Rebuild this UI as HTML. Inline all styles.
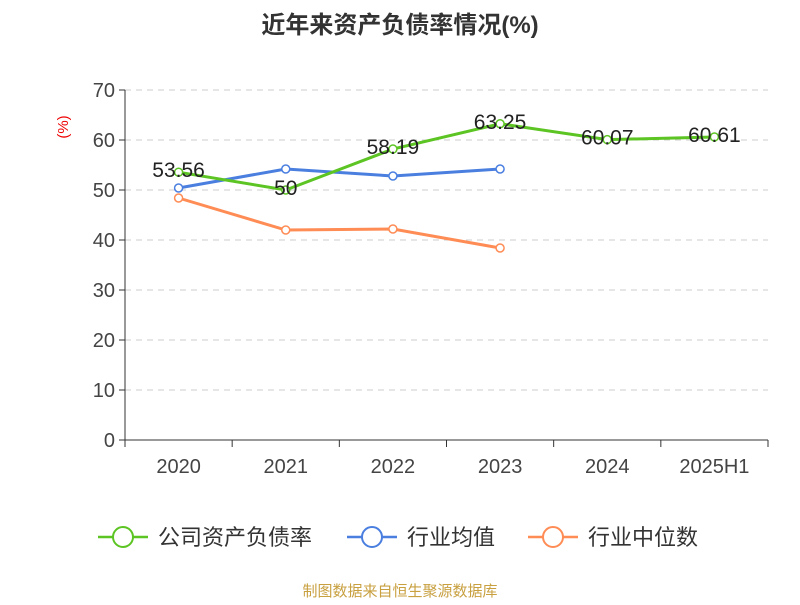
<!DOCTYPE html>
<html><head><meta charset="utf-8"><style>
body{margin:0;background:#fff;font-family:"Liberation Sans","Noto Sans CJK SC",sans-serif}
</style></head><body>
<svg id="c" width="800" height="600" xmlns="http://www.w3.org/2000/svg">
<text x="400" y="33" text-anchor="middle" font-size="24" font-weight="bold" fill="#333" font-family="Liberation Sans,Noto Sans CJK SC,sans-serif">近年来资产负债率情况(%)</text>
<text x="0" y="0" transform="translate(68,127) rotate(-90)" text-anchor="middle" font-size="15" fill="#e00">(%)</text>
<g id="grid"></g><g id="axes"></g><g id="series"></g>
<text x="400" y="596" text-anchor="middle" font-size="15" fill="#c8a040" font-family="Liberation Sans,Noto Sans CJK SC,sans-serif">制图数据来自恒生聚源数据库</text>
<g id="legend"></g>
</svg>
<script>
const categories=["2020","2021","2022","2023","2024","2025H1"];
const companyValues=[53.56,50,58.19,63.25,60.07,60.61];
const industryAvg=[50.4,54.2,52.8,54.2,null,null];
const industryMedian=[48.4,42.0,42.2,38.4,null,null];
const yTicks=[0,10,20,30,40,50,60,70];
const NS="http://www.w3.org/2000/svg";
const x0=125,x1=768,y0=440,yTop=90,yMax=70;
const bw=(x1-x0)/categories.length;
const X=i=>x0+bw*(i+0.5);
const Y=v=>y0-(v/yMax)*(y0-yTop);
function mk(tag,attrs,parent,text){const e=document.createElementNS(NS,tag);for(const k in attrs)e.setAttribute(k,attrs[k]);if(text!=null)e.textContent=text;document.getElementById(parent).appendChild(e);return e;}
yTicks.forEach(t=>{
 if(t>0){const l=mk('line',{x1:x0,x2:x1,y1:Y(t),y2:Y(t),stroke:'#ccc','stroke-dasharray':'6,5'},'grid');
 
 }
 const tk=mk('line',{x1:x0-6,x2:x0,y1:Y(t),y2:Y(t),stroke:'#333'},'axes');
 
 
 const tx=mk('text',{x:x0-10,y:Y(t)+7,'text-anchor':'end','font-size':20,fill:'#444'},'axes',t);
 
 
});
let a=mk('line',{x1:x0,x2:x0,y1:yTop,y2:y0,stroke:'#333'},'axes');


a=mk('line',{x1:x0,x2:x1,y1:y0,y2:y0,stroke:'#333'},'axes');


for(let i=0;i<=categories.length;i++){const t=mk('line',{x1:x0+bw*i,x2:x0+bw*i,y1:y0,y2:y0+7,stroke:'#333'},'axes');
 
 }
categories.forEach((c,i)=>{const t=mk('text',{x:X(i),y:y0+33,'text-anchor':'middle','font-size':20,fill:'#444'},'axes',c);
 
 });
function series(vals,color,name,labels){
 const pts=vals.map((v,i)=>v==null?null:[X(i),Y(v)]).filter(p=>p);
 const p=mk('polyline',{points:pts.map(p=>p.join(',')).join(' '),fill:'none',stroke:color,'stroke-width':3},'series');
 
 
 vals.forEach((v,i)=>{if(v==null)return;
  const c=mk('circle',{cx:X(i),cy:Y(v),r:4,fill:'#fff',stroke:color,'stroke-width':1.5},'series');
  
  
  if(labels){const t=mk('text',{x:X(i),y:Y(v)+5,'text-anchor':'middle','font-size':21,fill:'#222'},'series',v);
  
  }
 });
}
series(industryMedian,'#ff8c55','industry-median',false);
series(industryAvg,'#4a7fe0','industry-average',false);
series(companyValues,'#5cc423','company-debt-ratio',true);
[['公司资产负债率','#5cc423',98],['行业均值','#4a7fe0',347],['行业中位数','#ff8c55',528]].forEach((l,k)=>{
 const g=mk('g',{},'legend');
 
 
 const ln=document.createElementNS(NS,'line');ln.setAttribute('x1',l[2]);ln.setAttribute('x2',l[2]+50);ln.setAttribute('y1',537);ln.setAttribute('y2',537);ln.setAttribute('stroke',l[1]);ln.setAttribute('stroke-width',2.5);g.appendChild(ln);
 const c=document.createElementNS(NS,'circle');c.setAttribute('cx',l[2]+25);c.setAttribute('cy',537);c.setAttribute('r',10);c.setAttribute('fill','#fff');c.setAttribute('stroke',l[1]);c.setAttribute('stroke-width',2);g.appendChild(c);
 const t=document.createElementNS(NS,'text');t.setAttribute('x',l[2]+60);t.setAttribute('y',545);t.setAttribute('font-size',22);t.setAttribute('fill','#333');t.textContent=l[0];g.appendChild(t);
});
</script>
</body></html>
